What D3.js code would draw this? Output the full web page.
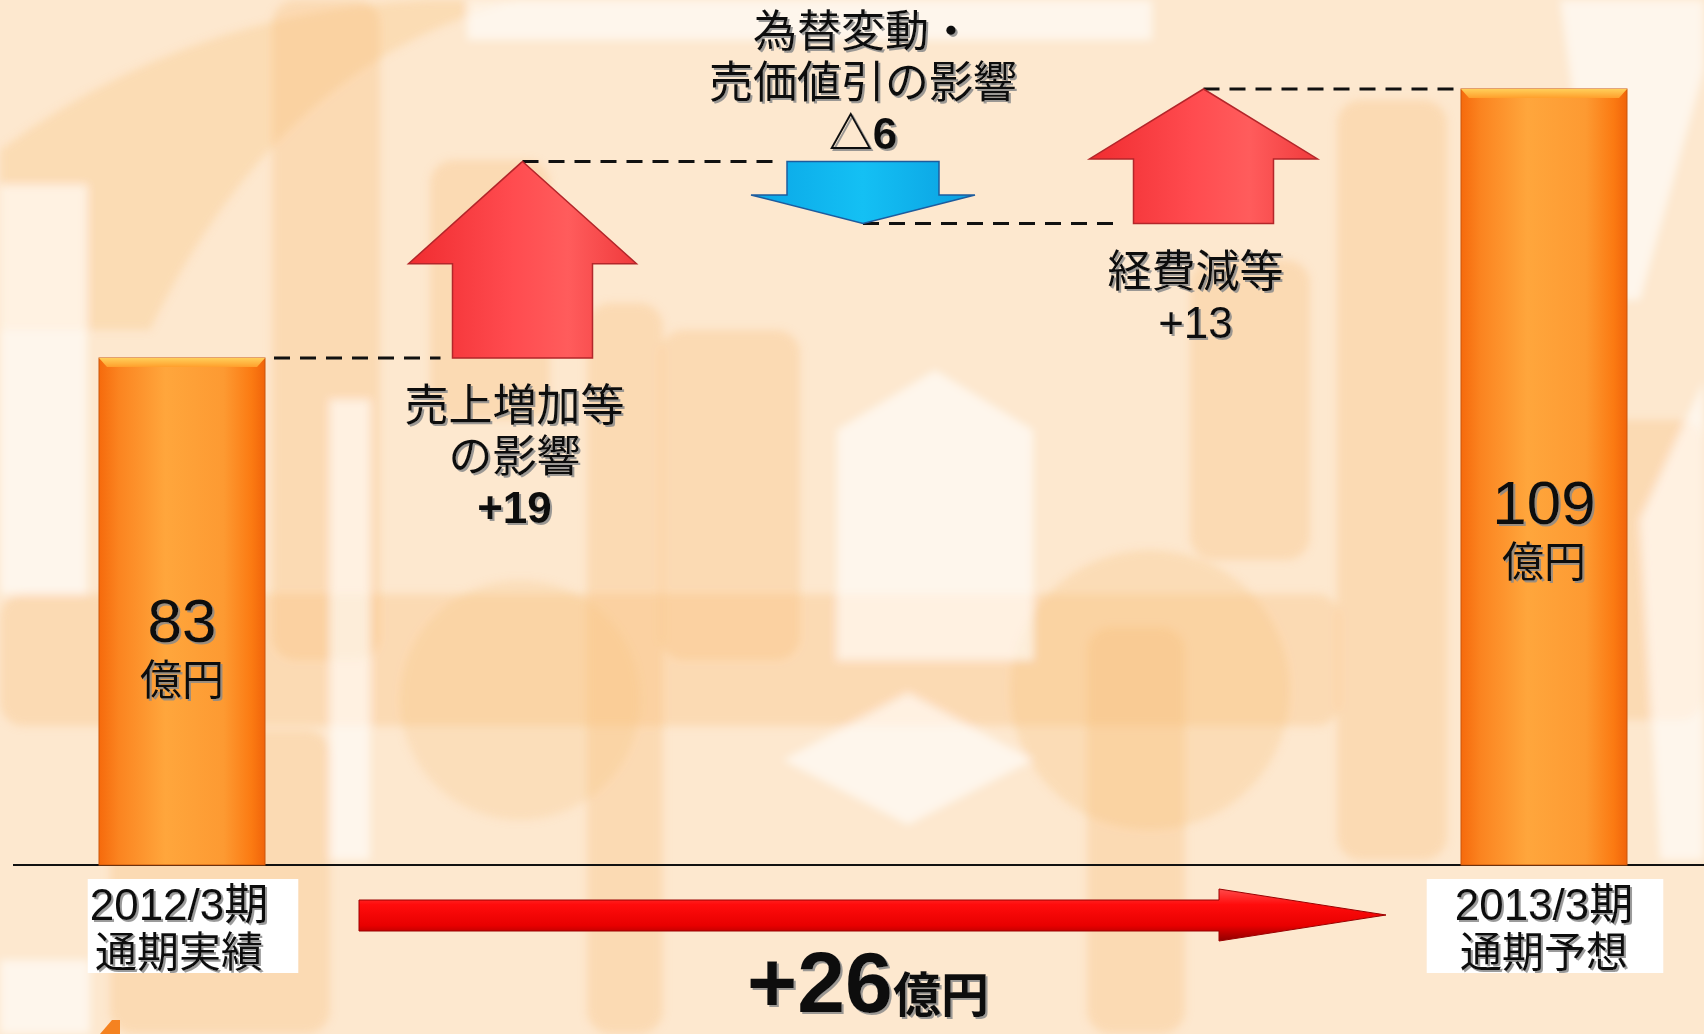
<!DOCTYPE html>
<html>
<head>
<meta charset="utf-8">
<script src="https://cdn.jsdelivr.net/npm/d3@7"></script>
<style>
body { margin: 0; background: #fff; }
svg text { font-family: "Liberation Sans", "Noto Sans CJK JP", sans-serif; }
</style>
</head>
<body>
<div id="chart"></div>
<script>
// waterfall steps (億円)
var steps = ["2012/3期", "売上増加等", "為替変動", "経費減等", "2013/3期"];
var kinds = ["total", "delta", "delta", "delta", "total"];
var values = [83, 19, -6, 13, 109];
var stepLabels = [
  ["83", "億円"],
  ["売上増加等", "の影響", "+19"],
  ["為替変動・", "売価値引の影響", "△6"],
  ["経費減等", "+13"],
  ["109", "億円"]
];
var periodLabels = [["2012/3期", "通期実績"], ["2013/3期", "通期予想"]];
var totalChange = "+26";
var totalUnit = "億円";

var w = 1704;
var h = 1034;
var baseY = 865;

var svg = d3.select("#chart").append("svg")
  .attr("width", w)
  .attr("height", h);

var defs = svg.append("defs");

// gradients
function hGrad(id, stops, vertical) {
  var g = defs.append("linearGradient").attr("id", id)
    .attr("x1", 0).attr("y1", 0)
    .attr("x2", vertical ? 0 : 1).attr("y2", vertical ? 1 : 0);
  stops.forEach(function (s) {
    g.append("stop").attr("offset", s[0]).attr("stop-color", s[1]);
  });
}
hGrad("barGrad", [[0, "#f66a0c"], [0.12, "#fb8420"], [0.4, "#ffa63c"], [0.75, "#fd9a32"], [0.92, "#fb7a12"], [1, "#f1640a"]]);
hGrad("bevelGrad", [[0, "#ffcf5a"], [1, "#ff9f2c"]], true);
hGrad("redGrad", [[0, "#f02c30"], [0.45, "#ff4b4f"], [0.7, "#ff5c5c"], [1, "#f03a3c"]]);
hGrad("blueGrad", [[0, "#0aa6e6"], [0.5, "#14c0f4"], [1, "#0a9fe0"]]);
hGrad("bigArrowGrad", [[0, "#ff4a4a"], [0.3, "#ff0c0c"], [0.7, "#e80000"], [1, "#8f0000"]], true);

var shadow = defs.append("filter").attr("id", "shadow")
  .attr("x", "-10%").attr("y", "-10%").attr("width", "130%").attr("height", "130%");
shadow.append("feDropShadow")
  .attr("dx", 2).attr("dy", 2).attr("stdDeviation", 0.6)
  .attr("flood-color", "#8a8a8a").attr("flood-opacity", 0.85);

var soft = defs.append("filter").attr("id", "soft");
soft.append("feGaussianBlur").attr("stdDeviation", 4);

// background decoration (faded watermark shapes)
var bg = svg.append("g");
bg.append("rect").attr("width", w).attr("height", h).attr("fill", "#fde8cf");
var deco = bg.append("g").attr("filter", "url(#soft)");
var darks = [
  [272, 0, 108, 660], [587, 303, 76, 731], [0, 594, 1340, 132], [1337, 100, 110, 760],
  [1087, 627, 98, 407], [110, 730, 220, 304], [660, 330, 140, 330], [1190, 260, 120, 300],
  [430, 160, 120, 260], [1560, 420, 144, 300]
];
darks.forEach(function (r) {
  deco.append("rect").attr("x", r[0]).attr("y", r[1]).attr("width", r[2]).attr("height", r[3])
    .attr("rx", 24).attr("fill", "#f8bf78").attr("opacity", 0.32);
});
deco.append("path")
  .attr("d", "M0,150 Q190,10 430,0 L520,0 Q280,60 150,330 L0,330 Z")
  .attr("fill", "#f8bf78").attr("opacity", 0.3);
deco.append("circle").attr("cx", 1150).attr("cy", 690).attr("r", 140)
  .attr("fill", "#f8bf78").attr("opacity", 0.28);
deco.append("circle").attr("cx", 520).attr("cy", 700).attr("r", 120)
  .attr("fill", "#f8bf78").attr("opacity", 0.24);
var whites = [
  "M467,0 L1152,0 L1152,40 L467,40 Z",
  "M935,370 L1033,430 L1033,660 L837,660 L837,430 Z",
  "M908,693 L1033,760 L908,825 L783,760 Z",
  "M0,185 L87,185 L87,594 L0,594 Z",
  "M1560,0 L1704,0 L1704,70 L1640,300 L1600,300 Z",
  "M1640,520 L1704,380 L1704,860 L1660,860 Z",
  "M0,960 L90,960 L90,1034 L0,1034 Z",
  "M330,400 L370,400 L370,860 L330,860 Z"
];
whites.forEach(function (p) {
  deco.append("path").attr("d", p).attr("fill", "#fff").attr("opacity", 0.6);
});

// running totals
var rows = [];
var running = 0;
steps.forEach(function (s, i) {
  var start, end;
  if (kinds[i] === "total") {
    start = null;
    end = values[i];
  } else {
    start = running;
    end = running + values[i];
  }
  running = end;
  rows.push({ name: s, kind: kinds[i], value: values[i], start: start, end: end, labels: stepLabels[i], i: i });
});

// scales
var yScale = d3.scaleLinear().domain([34, 109]).range([baseY, 89]);
var xScale = d3.scalePoint().domain(steps).range([182, 1544]);

var barW = 166;

// baseline
svg.append("line")
  .attr("x1", 13).attr("x2", w)
  .attr("y1", baseY).attr("y2", baseY)
  .attr("stroke", "#111").attr("stroke-width", 2);

// dashed connectors
for (var i = 0; i < rows.length - 1; i++) {
  var a = rows[i], b = rows[i + 1];
  var x1 = a.kind === "total" ? xScale(a.name) + barW / 2 + 9 : xScale(a.name);
  var x2 = b.kind === "total" ? xScale(b.name) - barW / 2 : xScale(b.name) - (b.value < 0 ? 76 : 70) - 12;
  svg.append("line")
    .attr("x1", x1).attr("x2", x2)
    .attr("y1", yScale(a.end)).attr("y2", yScale(a.end))
    .attr("stroke", "#111").attr("stroke-width", 3)
    .attr("stroke-dasharray", "16,10");
}

// total bars
var totals = rows.filter(function (d) { return d.kind === "total"; });
var barG = svg.selectAll(".bar").data(totals).enter().append("g").attr("class", "bar");
barG.append("rect")
  .attr("x", function (d) { return xScale(d.name) - barW / 2; })
  .attr("y", function (d) { return yScale(d.end); })
  .attr("width", barW)
  .attr("height", function (d) { return baseY - yScale(d.end); })
  .attr("fill", "url(#barGrad)")
  .attr("stroke", "#c9560c").attr("stroke-width", 1);
barG.append("path")
  .attr("d", function (d) {
    var x0 = xScale(d.name) - barW / 2, y0 = yScale(d.end);
    return "M" + x0 + "," + y0 + "L" + (x0 + barW) + "," + y0 +
      "L" + (x0 + barW - 8) + "," + (y0 + 9) + "L" + (x0 + 8) + "," + (y0 + 9) + "Z";
  })
  .attr("fill", "url(#bevelGrad)");

// delta arrows
var deltas = rows.filter(function (d) { return d.kind === "delta"; });
svg.selectAll(".arrow").data(deltas).enter().append("path")
  .attr("class", "arrow")
  .attr("d", function (d) {
    var cx = xScale(d.name);
    var y0 = yScale(d.start), y1 = yScale(d.end);
    var up = d.value > 0;
    var sw = up ? 70 : 76, hw = up ? 114 : 112;
    var headLen = Math.abs(y1 - y0) * (up ? 0.52 : 0.46);
    var yh = up ? y1 + headLen : y1 - headLen;
    return "M" + (cx - sw) + "," + y0 + "L" + (cx - sw) + "," + yh + "L" + (cx - hw) + "," + yh +
      "L" + cx + "," + y1 + "L" + (cx + hw) + "," + yh + "L" + (cx + sw) + "," + yh +
      "L" + (cx + sw) + "," + y0 + "Z";
  })
  .attr("fill", function (d) { return d.value > 0 ? "url(#redGrad)" : "url(#blueGrad)"; })
  .attr("stroke", function (d) { return d.value > 0 ? "#b3262a" : "#1e5c9e"; })
  .attr("stroke-width", 1.5)
  .attr("stroke-linejoin", "miter");

// labels on totals
totals.forEach(function (d) {
  var cx = xScale(d.name);
  var ty = yScale(34 + (d.end - 34) * 0.44);
  svg.append("text").attr("x", cx).attr("y", ty)
    .attr("text-anchor", "middle").attr("font-size", 62)
    .attr("fill", "#111").attr("filter", "url(#shadow)")
    .text(d.labels[0]);
  svg.append("text").attr("x", cx).attr("y", ty + 53)
    .attr("text-anchor", "middle").attr("font-size", 42)
    .attr("fill", "#111").attr("filter", "url(#shadow)")
    .text(d.labels[1]);
});

// labels on deltas
var lineH = 51;
deltas.forEach(function (d) {
  var cx = xScale(d.name) - (d.value > 0 ? 8 : 0);
  var n = d.labels.length;
  d.labels.forEach(function (t, k) {
    var ty;
    if (d.value > 0) {
      ty = yScale(d.start) + 63 + k * lineH;
    } else {
      ty = yScale(d.start) - 12 - (n - 1 - k) * lineH;
    }
    var isNum = k === n - 1;
    svg.append("text").attr("x", cx).attr("y", ty)
      .attr("text-anchor", "middle").attr("font-size", 44)
      .attr("font-weight", isNum && d.i !== 3 ? 700 : 400)
      .attr("fill", "#111").attr("filter", "url(#shadow)")
      .text(t);
  });
});

// period labels under the bars (white boxes)
totals.forEach(function (d, j) {
  var cx = xScale(d.name) - (j === 0 ? 3 : 0);
  var g = svg.append("g");
  var box = g.append("rect").attr("fill", "#fff");
  var t1 = g.append("text").attr("x", cx).attr("y", 920)
    .attr("text-anchor", "middle").attr("font-size", 44)
    .attr("fill", "#111").attr("filter", "url(#shadow)")
    .text(periodLabels[j][0]);
  var t2 = g.append("text").attr("x", cx).attr("y", 967)
    .attr("text-anchor", "middle").attr("font-size", 42)
    .attr("fill", "#111").attr("filter", "url(#shadow)")
    .text(periodLabels[j][1]);
  var b1 = t1.node().getBBox(), b2 = t2.node().getBBox();
  var bx0 = Math.min(b1.x, b2.x) - (j === 0 ? 2 : 28);
  var bx1 = Math.max(b1.x + b1.width, b2.x + b2.width) + 30;
  box.attr("x", bx0).attr("y", 879).attr("width", bx1 - bx0).attr("height", 94);
});

// overall change arrow
var ax0 = xScale(steps[0]) + 177, ax1 = xScale(steps[steps.length - 1]) - 158;
var ay = 915, headL = 167;
svg.append("path")
  .attr("d", "M" + ax0 + "," + (ay - 15) + "L" + (ax1 - headL) + "," + (ay - 15) +
    "L" + (ax1 - headL) + "," + (ay - 26) + "L" + ax1 + "," + ay +
    "L" + (ax1 - headL) + "," + (ay + 26) + "L" + (ax1 - headL) + "," + (ay + 16) +
    "L" + ax0 + "," + (ay + 16) + "Z")
  .attr("fill", "url(#bigArrowGrad)")
  .attr("stroke", "#9a0000").attr("stroke-width", 1);

var tot = svg.append("text").attr("x", 868).attr("y", 1012)
  .attr("text-anchor", "middle").attr("font-weight", 700)
  .attr("fill", "#111").attr("filter", "url(#shadow)");
tot.append("tspan").attr("font-size", 86).text(totalChange);
tot.append("tspan").attr("font-size", 48).text(totalUnit);

// small logo fragment bottom-left
svg.append("path").attr("d", "M100,1034 L112,1020 L120,1020 L120,1034 Z").attr("fill", "#f58220");
</script>
</body>
</html>
